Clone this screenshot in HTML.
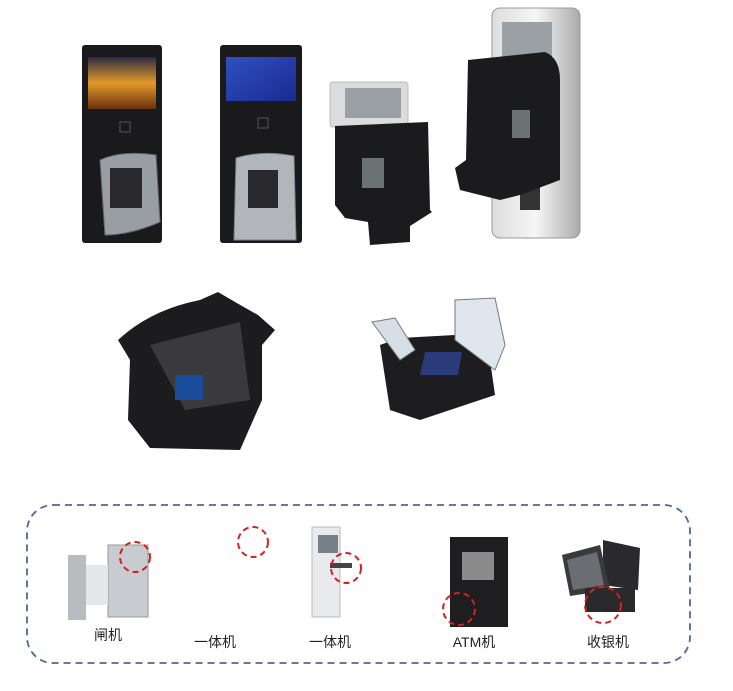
<!DOCTYPE html>
<html><head><meta charset="utf-8"><style>
body{margin:0;width:733px;height:691px;background:#fff;overflow:hidden;font-family:"Liberation Sans","Noto Sans CJK SC",sans-serif}
svg{position:absolute;left:0;top:0}
</style></head><body>
<svg width="733" height="691" viewBox="0 0 733 691">
<defs>
<linearGradient id="scr1" x1="0" y1="0" x2="0" y2="1"><stop offset="0" stop-color="#2a2a40"/><stop offset=".5" stop-color="#e39a2a"/><stop offset="1" stop-color="#6a3010"/></linearGradient>
<linearGradient id="scr2" x1="0" y1="0" x2="1" y2="1"><stop offset="0" stop-color="#3050c0"/><stop offset="1" stop-color="#1a2a90"/></linearGradient>
<linearGradient id="silver" x1="0" y1="0" x2="1" y2="0"><stop offset="0" stop-color="#ddd"/><stop offset=".5" stop-color="#f6f6f6"/><stop offset="1" stop-color="#aaa"/></linearGradient>
</defs>
<!-- device 1 -->
<rect x="82" y="45" width="80" height="198" rx="3" fill="#1a1a1c"/>
<rect x="88" y="57" width="68" height="52" fill="url(#scr1)"/>
<rect x="120" y="122" width="10" height="10" fill="none" stroke="#555"/>
<path d="M100 160 Q122 150 156 155 L160 222 Q130 235 105 235 Z" fill="#cfd6dd" opacity=".7" stroke="#889" />
<rect x="110" y="168" width="32" height="40" fill="#2a2a2e"/>
<!-- device 2 -->
<rect x="220" y="45" width="82" height="198" rx="3" fill="#1a1a1c"/>
<rect x="226" y="57" width="70" height="44" fill="url(#scr2)"/>
<rect x="258" y="118" width="10" height="10" fill="none" stroke="#555"/>
<path d="M236 158 Q262 150 294 156 L296 240 L234 240 Z" fill="#d8dde3" opacity=".8" stroke="#99a"/>
<rect x="248" y="170" width="30" height="38" fill="#2a2a2e"/>
<!-- device 3 -->
<rect x="330" y="82" width="78" height="45" rx="3" fill="#dcdcdc" stroke="#bbb"/>
<rect x="345" y="88" width="56" height="30" fill="#9aa0a4"/>
<path d="M335 126 L428 122 L430 210 L432 212 L410 226 L410 242 L370 245 L368 222 L345 218 L335 205 Z" fill="#1b1b1d"/>
<rect x="362" y="158" width="22" height="30" fill="#6a7274"/>
<!-- device 4 -->
<rect x="492" y="8" width="88" height="230" rx="8" fill="url(#silver)" stroke="#999"/>
<rect x="502" y="22" width="50" height="38" fill="#9aa0a4"/>
<rect x="520" y="180" width="20" height="30" fill="#333"/>
<path d="M468 60 L545 52 Q560 58 560 80 L560 180 L520 195 L500 200 L460 190 L455 168 L466 160 Z" fill="#1b1b1d"/>
<rect x="512" y="110" width="18" height="28" fill="#6a7274"/>
<!-- bowl -->
<path d="M118 340 Q150 310 200 300 L218 292 Q240 305 258 315 L275 330 L262 345 L262 400 L240 450 L150 448 L128 420 L130 360 Z" fill="#1c1c1e"/>
<path d="M150 345 L240 322 L250 400 L185 410 Z" fill="#3a3a3e"/>
<rect x="175" y="375" width="28" height="25" fill="#1a4a9a"/>
<!-- right device -->
<path d="M380 345 L400 338 L455 335 L490 360 L495 395 L420 420 L390 410 Z" fill="#1d1d1f"/>
<path d="M455 300 L495 298 L505 345 L495 370 L455 340 Z" fill="#dfe6ee" stroke="#777"/>
<path d="M372 322 L395 318 L415 350 L400 360 Z" fill="#d8dee6" stroke="#777"/>
<path d="M425 352 L462 352 L458 375 L420 375 Z" fill="#2a3a7a"/>
<!-- bottom box -->
<rect x="27" y="505" width="663" height="158" rx="26" fill="none" stroke="#4a6a9a" stroke-width="1.8" stroke-dasharray="7 5"/>
<!-- gate -->
<rect x="68" y="555" width="18" height="65" fill="#b8bcc0"/>
<rect x="108" y="545" width="40" height="72" fill="#c8ccd0" stroke="#999"/>
<rect x="86" y="565" width="22" height="40" fill="#e4e6e8"/>
<!-- kiosk -->
<rect x="312" y="527" width="28" height="90" fill="#e8eaec" stroke="#bbb"/>
<rect x="318" y="535" width="20" height="18" fill="#7a8088"/>
<rect x="330" y="563" width="22" height="5" fill="#444"/>
<!-- ATM -->
<rect x="450" y="537" width="58" height="90" fill="#1e1e20"/>
<rect x="462" y="552" width="32" height="28" fill="#8a8a8a"/>
<!-- POS -->
<path d="M603 540 L640 548 L638 590 L603 585 Z" fill="#2a2a2c"/>
<path d="M562 555 L600 545 L610 590 L570 596 Z" fill="#3a3a3c"/>
<path d="M567 560 L597 552 L604 585 L573 590 Z" fill="#6a6e72"/>
<rect x="585" y="588" width="50" height="24" fill="#2a2a2c"/>
<!-- red circles -->
<g fill="none" stroke="#d42020" stroke-width="2" stroke-dasharray="6 4">
<circle cx="135" cy="557" r="15"/>
<circle cx="253" cy="542" r="15"/>
<circle cx="346" cy="568" r="15"/>
<circle cx="459" cy="609" r="16"/>
<circle cx="603" cy="605" r="18"/>
</g>
<g font-size="14" fill="#222" text-anchor="middle" font-family="Liberation Sans, Noto Sans CJK SC, sans-serif">
<text x="108" y="640">闸机</text>
<text x="215" y="647">一体机</text>
<text x="330" y="647">一体机</text>
<text x="474" y="647">ATM机</text>
<text x="608" y="647">收银机</text>
</g>
</svg>
</body></html>
